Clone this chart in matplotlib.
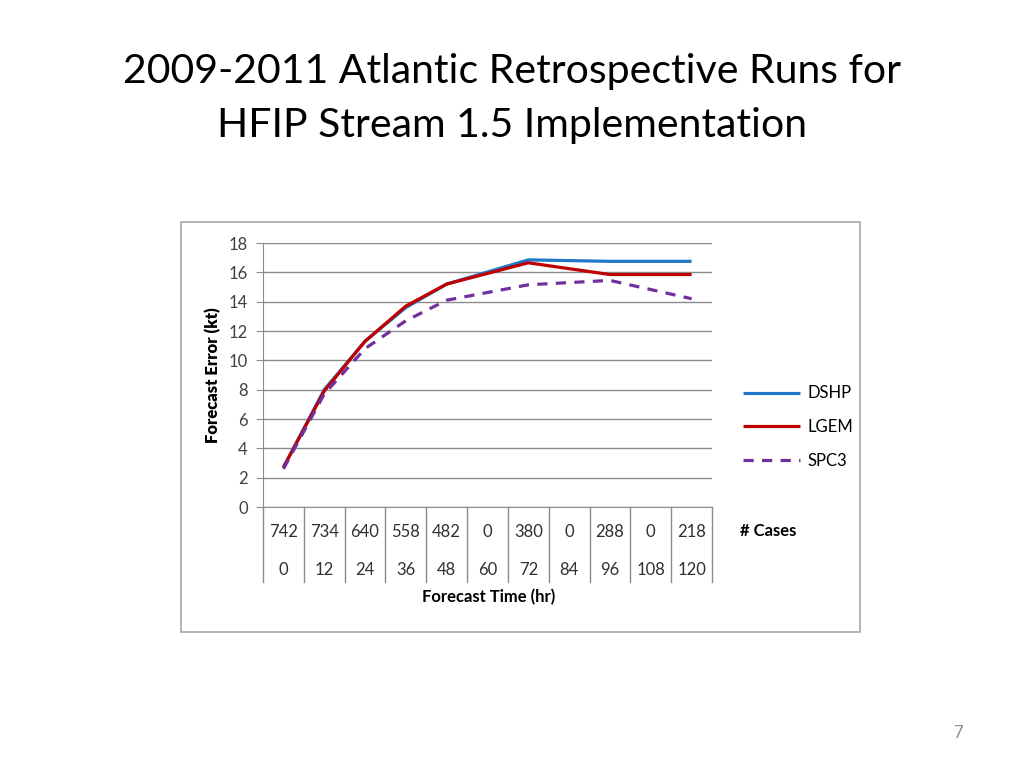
import numpy as np
import matplotlib
matplotlib.use("Agg")
import matplotlib.pyplot as plt
import matplotlib.transforms as mtransforms
from matplotlib.patches import Rectangle
from matplotlib.lines import Line2D

plt.rcParams['font.family'] = ['Lato', 'DejaVu Sans']

# ---- data ----
hours = [0, 12, 24, 36, 48, 60, 72, 84, 96, 108, 120]
cases = [742, 734, 640, 558, 482, 0, 380, 0, 288, 0, 218]
dshp = [2.7, 8.0, 11.3, 13.6, 15.2, np.nan, 16.85, np.nan, 16.75, np.nan, 16.75]
lgem = [2.7, 7.9, 11.3, 13.7, 15.2, np.nan, 16.65, np.nan, 15.85, np.nan, 15.85]
spc3 = [2.6, 7.7, 10.8, 12.7, 14.1, np.nan, 15.15, np.nan, 15.45, np.nan, 14.2]
series_names = ['DSHP', 'LGEM', 'SPC3']
yticks = [0, 2, 4, 6, 8, 10, 12, 14, 16, 18]

W, H = 1024, 768
fig = plt.figure(figsize=(10.24, 7.68), dpi=100)

def fx(px):
    return px / W

def fy(py):
    return 1 - py / H

FS = 12

# title
fig.text(0.5, fy(72), '2009-2011 Atlantic Retrospective Runs for', ha='center', va='center',
         fontsize=29.5, color='black')
fig.text(0.5, fy(126), 'HFIP Stream 1.5 Implementation', ha='center', va='center',
         fontsize=29.5, color='black')
fig.text(fx(958), fy(733), '7', ha='center', va='center', fontsize=12, color='#8c8c8c')

# chart border
fig.patches.append(Rectangle((fx(181), fy(632)), fx(860) - fx(181), fy(222) - fy(632),
                             transform=fig.transFigure, fill=False, edgecolor='#a6a6a6', lw=1.2))

ax = fig.add_axes([fx(263), fy(507), fx(712) - fx(263), fy(243) - fy(507)])
x = np.arange(len(hours))
colors = ['#1f77c8', '#c00000', '#7030a0']
styles = ['-', '-', (0, (3.2, 2.6))]
for vals, name, c, ls in zip([dshp, lgem, spc3], series_names, colors, styles):
    v = np.array(vals, dtype=float)
    m = ~np.isnan(v)
    ax.plot(x[m], v[m], color=c, lw=2.3, ls=ls, label=name, solid_capstyle='butt')

ax.set_xlim(-0.5, len(hours) - 0.5)
ax.set_ylim(0, 18)
ax.set_yticks(yticks)
ax.set_yticklabels([str(t) for t in yticks], fontsize=FS, color='#404040')
ax.yaxis.grid(True, color='#8c8c8c', lw=1)
ax.set_axisbelow(True)
ax.set_xticks([])
for s in ['top', 'right']:
    ax.spines[s].set_visible(False)
ax.spines['left'].set_color('#8c8c8c')
ax.spines['bottom'].set_color('#8c8c8c')
ax.tick_params(axis='y', length=5, color='#8c8c8c', pad=6)
ax.set_ylabel('Forecast Error (kt)', fontsize=FS, fontweight='heavy', labelpad=5)

# data table below axis
trans = mtransforms.blended_transform_factory(ax.transData, ax.transAxes)
ax_h = fy(243) - fy(507)
def ay(py):
    return (fy(py) - fy(507)) / ax_h

for b in np.arange(-0.5, len(hours), 1.0):
    ax.add_line(Line2D([b, b], [0, ay(582)], transform=trans, color='#8c8c8c', lw=1, clip_on=False))
for i, (c, h) in enumerate(zip(cases, hours)):
    ax.text(i, ay(532), str(c), transform=trans, ha='center', va='center', fontsize=FS, color='#303030')
    ax.text(i, ay(570), str(h), transform=trans, ha='center', va='center', fontsize=FS, color='#303030')
fig.text(fx(768), fy(531), '# Cases', ha='center', va='center', fontsize=FS, fontweight='bold')
fig.text(fx(489), fy(597), 'Forecast Time (hr)', ha='center', va='center', fontsize=FS, fontweight='bold')

leg = ax.legend(loc='center left', bbox_to_anchor=(fx(728), fy(427)), bbox_transform=fig.transFigure,
                frameon=False, fontsize=FS, handlelength=3.4, handletextpad=0.45, labelspacing=1.05)

fig.savefig('out.png', dpi=100, facecolor='white')
